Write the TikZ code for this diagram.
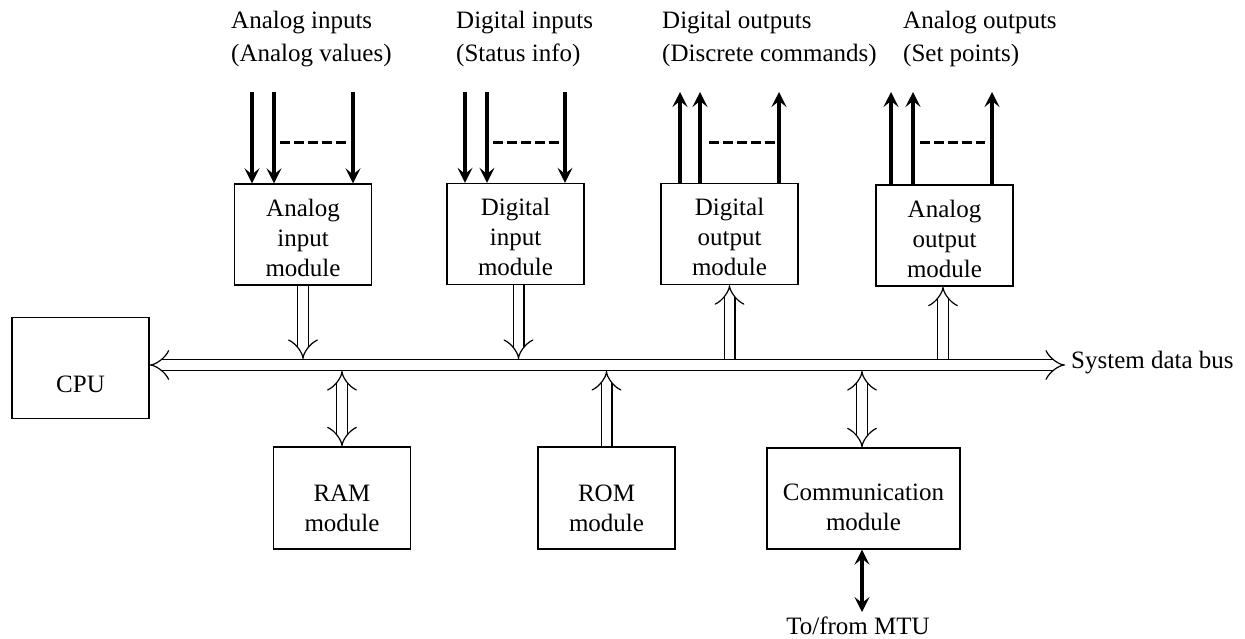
\documentclass[tikz,border=0pt]{standalone}
\usepackage{fontspec}
\setmainfont{Liberation Serif}
\usetikzlibrary{arrows.meta}

\begin{document}
\begin{tikzpicture}[x=1pt, y=-1pt,
  >={Stealth[length=15pt, width=15pt, inset=6pt]},
  module/.style={draw, line width=1.3pt, minimum width=137pt, minimum height=101pt, inner sep=0pt},
  boxtext/.style={inner sep=0pt, align=center, font=\fontsize{25}{30}\selectfont},
  label/.style={anchor=north west, inner sep=0pt, align=left, font=\fontsize{25}{33}\selectfont},
  buslink/.style={double, double distance=9.6pt, line width=1.2pt},
  signal/.style={line width=3.2pt, ->},
  dots/.style={line width=3pt, dash pattern=on 10pt off 4pt}
]
\useasboundingbox (0,0) rectangle (1245,638);

% processor and modules (frames)
\node[module] (cpu) at (80.5,368) {};
\node[module] (aim) at (303,234.5) {};
\node[module] (dim) at (515.5,234) {};
\node[module] (dom) at (729.5,234) {};
\node[module] (aom) at (944.5,235.5) {};
\node[module, minimum height=102pt] (ram) at (342,498) {};
\node[module, minimum height=102pt] (rom) at (606.5,498) {};
\node[module, minimum width=193pt] (com) at (863.5,498.5) {};

% module captions
\node[boxtext] (cputext) at ([yshift=-16pt]cpu.center) {CPU};
\node[boxtext] (aimtext) at ([yshift=-3pt]aim.center) {Analog\\input\\module};
\node[boxtext] (dimtext) at ([yshift=-3pt]dim.center) {Digital\\input\\module};
\node[boxtext] (domtext) at ([yshift=-3pt]dom.center) {Digital\\output\\module};
\node[boxtext] (aomtext) at ([yshift=-3pt]aom.center) {Analog\\output\\module};
\node[boxtext] (ramtext) at ([yshift=-10pt]ram.center) {RAM\\module};
\node[boxtext] (romtext) at ([yshift=-10pt]rom.center) {ROM\\module};
\node[boxtext] (comtext) at ([yshift=-9pt]com.center) {Communication\\module};

% field signal labels
\node[label] (lai) at (231,11) {Analog inputs\\(Analog values)};
\node[label] (ldi) at (456,11) {Digital inputs\\(Status info)};
\node[label] (ldo) at (662,11) {Digital outputs\\(Discrete commands)};
\node[label] (lao) at (903,11) {Analog outputs\\(Set points)};

% system data bus
\coordinate (busend) at (1065,365);
\coordinate (busT) at (0,359);
\coordinate (busB) at (0,371);
\draw[buslink, {Implies}-{Implies}] (cpu.east |- busend) -- (busend);
\node[anchor=base west, inner sep=0pt, font=\fontsize{25}{30}\selectfont] (buslabel)
  at (1071,368) {System data bus};

% module to bus links
\draw[buslink, -{Implies}] (aim.south) -- (aim.south |- busT);
\draw[buslink, -{Implies}] ([xshift=3pt]dim.south) -- ([xshift=3pt]dim.south |- busT);
\draw[buslink, -{Implies}] (dom.south |- busT) -- (dom.south);
\draw[buslink, -{Implies}] ([xshift=-1.5pt]aom.south |- busT) -- ([xshift=-1.5pt]aom.south);
\draw[buslink, {Implies}-{Implies}] (ram.north |- busB) -- (ram.north);
\draw[buslink, -{Implies}] (rom.north) -- (rom.north |- busB);
\draw[buslink, {Implies}-{Implies}] ([xshift=-1.5pt]com.north |- busB) -- ([xshift=-1.5pt]com.north);

% analog inputs
\coordinate (ai1) at (252,92); \coordinate (ai2) at (274,92); \coordinate (ai3) at (353,92);
\draw[signal, line width=4.5pt] (ai1) -- (ai1 |- aim.north);
\draw[signal] (ai2) -- (ai2 |- aim.north);
\draw[signal] (ai3) -- (ai3 |- aim.north);
\draw[dots] (280,142) -- (347,142);

% digital inputs
\coordinate (di1) at (465,92); \coordinate (di2) at (487,92); \coordinate (di3) at (565,92);
\draw[signal] (di1) -- (di1 |- dim.north);
\draw[signal] (di2) -- (di2 |- dim.north);
\draw[signal] (di3) -- (di3 |- dim.north);
\draw[dots] (493,142) -- (560,142);

% digital outputs
\coordinate (do1) at (680,92); \coordinate (do2) at (700,92); \coordinate (do3) at (779,92);
\draw[signal] (do1 |- dom.north) -- (do1);
\draw[signal] (do2 |- dom.north) -- (do2);
\draw[signal] (do3 |- dom.north) -- (do3);
\draw[dots] (709,142) -- (775,142);

% analog outputs
\coordinate (ao1) at (891,92); \coordinate (ao2) at (913,92); \coordinate (ao3) at (992,92);
\draw[signal] (ao1 |- aom.north) -- (ao1);
\draw[signal] (ao2 |- aom.north) -- (ao2);
\draw[signal] (ao3 |- aom.north) -- (ao3);
\draw[dots] (920,142) -- (985,142);

% link to the master terminal unit
\coordinate (mtu) at (862,612);
\draw[signal, <->] ([xshift=-1.5pt]com.south) -- (mtu);
\node[anchor=base, inner sep=0pt, font=\fontsize{25}{30}\selectfont] (mtulabel)
  at (858,634) {To/from MTU};
\end{tikzpicture}
\end{document}
